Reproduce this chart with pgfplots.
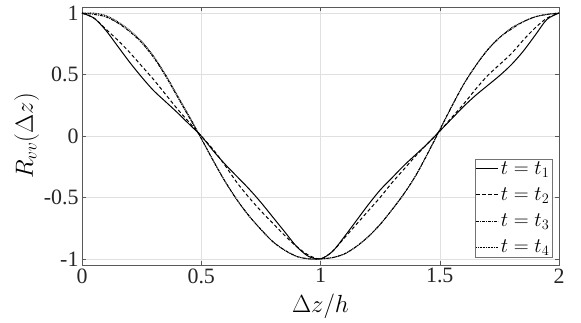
\documentclass[border=0pt]{standalone}
\usepackage{fontspec}
\setmainfont{Liberation Serif}
\usepackage{pgfplots}
\pgfplotsset{compat=1.18}
\usepackage{pgfplotstable}

% correlation vs separation
\pgfplotstableread{
x     t1     t2     t3     t4
0.00  1.00   1.00   1.00   1.00
0.05  0.96   0.96   0.99   1.00
0.10  0.86   0.87   0.97   0.98
0.15  0.73   0.78   0.92   0.93
0.20  0.60   0.68   0.85   0.86
0.25  0.48   0.57   0.76   0.77
0.30  0.37   0.46   0.64   0.65
0.35  0.28   0.34   0.49   0.50
0.40  0.19   0.22   0.32   0.33
0.45  0.095  0.11   0.15   0.16
0.50  0.00   0.00  -0.02  -0.02
0.55 -0.12  -0.11  -0.20  -0.20
0.60 -0.23  -0.24  -0.37  -0.37
0.65 -0.33  -0.38  -0.52  -0.52
0.70 -0.43  -0.50  -0.65  -0.65
0.75 -0.54  -0.61  -0.76  -0.76
0.80 -0.66  -0.71  -0.86  -0.86
0.85 -0.78  -0.81  -0.93  -0.93
0.90 -0.90  -0.90  -0.98  -0.98
0.95 -0.98  -0.97  -1.00  -1.00
1.00 -1.00  -1.00  -1.00  -1.00
1.05 -0.94  -0.94  -0.99  -0.99
1.10 -0.82  -0.83  -0.96  -0.96
1.15 -0.69  -0.72  -0.90  -0.90
1.20 -0.56  -0.61  -0.82  -0.82
1.25 -0.44  -0.50  -0.72  -0.72
1.30 -0.34  -0.38  -0.60  -0.60
1.35 -0.24  -0.27  -0.47  -0.47
1.40 -0.15  -0.16  -0.32  -0.32
1.45 -0.06  -0.06  -0.14  -0.14
1.50  0.04   0.04   0.05   0.05
1.55  0.14   0.15   0.24   0.24
1.60  0.24   0.26   0.42   0.42
1.65  0.33   0.38   0.57   0.57
1.70  0.41   0.49   0.70   0.70
1.75  0.49   0.58   0.80   0.80
1.80  0.58   0.67   0.87   0.88
1.85  0.69   0.78   0.93   0.93
1.90  0.82   0.88   0.97   0.97
1.95  0.95   0.96   0.99   0.99
2.00  1.00   1.00   1.00   1.00
}\corr

\begin{document}
\begin{tikzpicture}
\begin{axis}[
    scale only axis,
    width=477bp, height=258bp,
    xmin=0, xmax=2,
    ymin=-1.05, ymax=1.05,
    xtick={0,0.5,1,1.5,2},
    xticklabels={0,0.5,1,1.5,2},
    ytick={-1,-0.5,0,0.5,1},
    yticklabels={-1,-0.5,0,0.5,1},
    tick label style={font=\fontsize{22}{24}\selectfont, black!85},
    label style={font=\fontsize{25}{27}\selectfont},
    xlabel={$\Delta z/h$},
    ylabel={$R_{vv}(\Delta z)$},
    xlabel style={yshift=-4bp},
    ylabel style={yshift=-2bp},
    tick align=inside,
    major tick length=4bp,
    axis line style={black!65},
    every tick/.style={black!65},
    grid=major,
    grid style={black!12},
    legend style={at={(axis description cs:1,0)}, anchor=south east,
        xshift=-7bp, yshift=8bp, font=\fontsize{20}{21}\selectfont,
        draw=black!55, inner sep=0.5pt, row sep=8bp},
    legend cell align=left,
    legend image code/.code={\draw[#1] (0bp,0bp) -- (22bp,0bp);},
    /tikz/every even column/.append style={column sep=0pt},
]
\addplot[black, line width=1bp, smooth] table[x=x, y=t1] {\corr};
\addplot[black, line width=1bp, smooth, dash pattern=on 3.5bp off 2.5bp] table[x=x, y=t2] {\corr};
\addplot[black, line width=1bp, smooth, dash pattern=on 3bp off 1bp on 1bp off 1bp] table[x=x, y=t3] {\corr};
\addplot[black, line width=1bp, smooth, dash pattern=on 0.8bp off 0.8bp] table[x=x, y=t4] {\corr};
\legend{$t=t_1$, $t=t_2$, $t=t_3$, $t=t_4$}
\end{axis}
\pgfresetboundingbox
\path[use as bounding box] ([shift={(-82bp,-58bp)}]current axis.south west)
    rectangle ([shift={(22bp,7bp)}]current axis.north east);
\end{tikzpicture}
\end{document}
